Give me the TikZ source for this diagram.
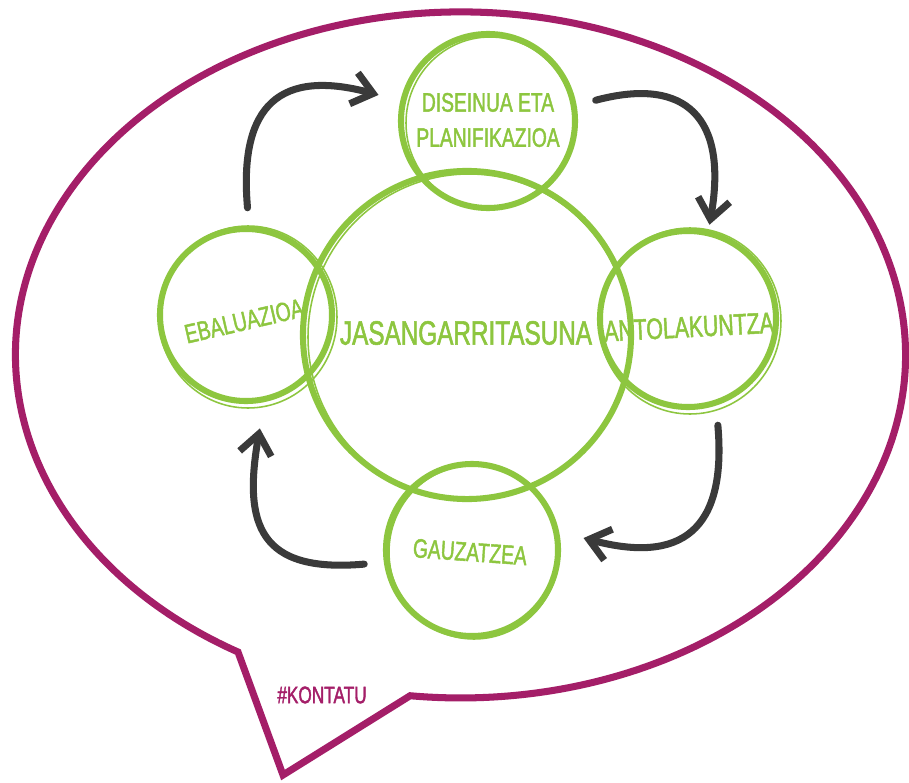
\documentclass[tikz,border=0pt]{standalone}
\usepackage{fontspec}
\newfontfamily\handfont[FakeStretch=0.72,FakeBold=1.6]{Liberation Sans}
\usetikzlibrary{arrows.meta}
\definecolor{leaf}{RGB}{141,198,63}
\definecolor{berry}{RGB}{164,30,104}
\definecolor{ink}{RGB}{58,58,58}
\tikzset{
	ring/.style={circle,draw=leaf,line width=4.3pt,inner sep=0pt},
	ringtwo/.style={draw=leaf,line width=1.1pt},
	word/.style={text=leaf,inner sep=0pt,align=center},
	cyc/.style={draw=ink,line width=5pt,line cap=round,looseness=1.6,-{Straight Barb[length=0.5cm,width=0.8cm]}},
	bubble/.style={draw=berry,line width=5pt,line join=miter}
}
\begin{document}
\begin{tikzpicture}[x=0.025cm,y=0.025cm]
	\fill[white] (0,0) rectangle (909,-783);
	\useasboundingbox (0,0) rectangle (909,-783);
	\draw[bubble] (238,-652) arc[start angle=240,end angle=-96.5,x radius=445,y radius=343] -- (283,-775) -- cycle;
	\node[ring,minimum size=8.2cm] (sust) at (467,-335) {};
	\node[ring,minimum size=4.35cm] (dis) at (488,-121) {};
	\node[ring,minimum size=4.4cm] (ant) at (688,-319) {};
	\node[ring,minimum size=4.3cm] (ebal) at (246,-315) {};
	\node[ring,minimum size=4.3cm] (gau) at (472,-550) {};
	\foreach \n/\r in {sust/161,dis/84,ant/91,ebal/89,gau/85}
		\draw[ringtwo] ([shift={(2,-2)}]\n.center) circle[x radius=\r,y radius=\r+2];
	\node[word,font=\handfont\fontsize{24}{26}\selectfont] (sustt) at (466,-333) {JASANGARRITASUNA};
	\node[word,font=\handfont\fontsize{19}{25}\selectfont] (dist) at (488,-120) {DISEINUA ETA\\PLANIFIKAZIOA};
	\node[word,font=\handfont\fontsize{21}{23}\selectfont,rotate=3] (antt) at (689,-327) {ANTOLAKUNTZA};
	\node[word,font=\handfont\fontsize{19}{21}\selectfont,rotate=13] (ebalt) at (244,-321) {EBALUAZIOA};
	\node[word,font=\handfont\fontsize{19}{21}\selectfont,rotate=-4] (gaut) at (470,-552) {GAUZATZEA};
	\node[word,text=berry,font=\handfont\fontsize{17}{19}\selectfont] (kont) at (322,-695) {\#KONTATU};
	\draw[cyc,shorten <=13pt,shorten >=16pt] (ebal.88) to[out=95,in=165] (dis.167);
	\draw[cyc,shorten <=14pt,shorten >=4pt] (dis.10) to[out=15,in=80] (ant.77);
	\draw[cyc,shorten <=14pt,shorten >=18pt] (ant.-72) to[out=-85,in=-15] (gau.12);
	\draw[cyc,shorten <=14pt,shorten >=19pt] (gau.188) to[out=185,in=-100] (ebal.-78);
\end{tikzpicture}
\end{document}
